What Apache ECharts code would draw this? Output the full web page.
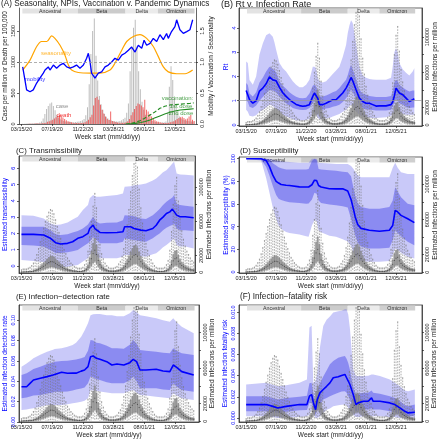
<!DOCTYPE html>
<html><head><meta charset="utf-8">
<script src="https://cdn.jsdelivr.net/npm/echarts@6/dist/echarts.min.js"></script>
<style>html,body{margin:0;padding:0;background:#fff}#c{width:440px;height:440px}</style>
</head><body><div id="c"></div>
<script>
// ---------------- DATA ----------------
const tickWeeks = [0, 18, 36, 54, 72, 90];
const tickLabels = ['03/15/20', '07/19/20', '11/22/20', '03/28/21', '08/01/21', '12/05/21'];

const variantNames = ['Ancestral', 'Beta', 'Delta', 'Omicron'];
const variantStart = [0.5, 33, 61, 80];
const variantEnd = [33, 61, 80, 101.5];

// Panel A (weekly, week 0 .. 101)
const caseA = [2,4,6,8,9,10,10,12,14,16, 18,25,40,90,160,240,290,330,345,290, 220,150,105,75,60,50,42,38,35,32, 30,30,32,35,40,48,60,80,140,270, 640,1130,1500,1700,1100,700,450,320,230,160, 118,90,70,58,50,45,42,42,48,60, 80,100,180,330,850,1250,1550,1680,1250,850, 560,360,230,150,110,80,60,48,40,32, 28,25,24,25,28,40,180,600,930,710, 420,260,170,120,90,70,60,52,48,45, 42,40];
const deathA = [0,0,1,2,3,4,5,6,7,8, 9,10,12,15,22,35,45,55,70,90, 110,130,140,125,105,80,60,45,35,28, 22,18,16,15,16,18,22,30,45,70, 110,150,300,420,440,390,310,230,170,120, 85,65,200,50,40,32,26,22,20,20, 22,28,45,80,140,190,240,290,330,320, 300,270,390,230,200,160,120,85,60,45, 35,28,22,18,15,16,20,28,35,45, 60,80,95,110,118,95,76,90,120,145, 70,50];
const seasonWeeks = [0.7,5,8.9,11.8,14.8,17.7,19.6,22.6,25.5,27.5, 29.4,33.3,40.2,46,51.9,54.8,58.8,61.7,65.6,69.5, 73.4,77.3,80.2,83.2,86.1,91,95.9,100.4];
const seasonVals = [0.87,1.03,1.25,1.33,1.33,1.42,1.38,1.27,1.11,0.95, 0.87,0.83,0.82,0.82,0.87,0.98,1.19,1.33,1.41,1.44, 1.38,1.25,1.09,0.92,0.84,0.81,0.81,0.87];
const mobWeeks = [0.7,2,3,5,6.9,8.9,10.8,12.8,13.8,15.7, 16.7,18.7,20.6,22.6,24.5,26.5,28.4,30.4,32.3,34.3, 36.3,38.2,39.2,40.2,41.1,43.1,45.1,47,49,50.9, 52.9,54.8,56.8,58.8,60.7,62.7,64.6,66.6,68.5,70.5, 71.9,73.4,75.4,77.3,79.3,81.2,83.2,85.1,86.1,88, 90,91,92.9,94.9,96.9,98.8,100.4];
const mobVals = [0.92,0.71,0.55,0.52,0.55,0.66,0.74,0.82,0.87,0.92, 0.87,0.95,0.90,0.95,0.98,0.92,0.90,0.92,0.95,0.90, 0.95,1.06,1.14,1.0,0.82,0.74,0.82,0.84,0.92,0.95, 1.0,1.06,1.03,1.11,1.14,1.19,1.24,1.16,1.27,1.22, 1.35,1.27,1.30,1.38,1.33,1.44,1.36,1.46,1.38,1.49, 1.57,1.68,1.52,1.46,1.49,1.52,1.68];
const vac1Weeks = [61,64,67,69.5,72,75.4,78,81.2,84,87.1,93,98.8,101];
const vac1Vals = [0,0.01,0.03,0.053,0.09,0.145,0.19,0.253,0.285,0.306,0.32,0.333,0.34];
const vac2Weeks = [63,67,70,72.5,75.4,78,81.2,84,87.1,90,93,98.8,101];
const vac2Vals = [0,0.01,0.025,0.04,0.065,0.095,0.13,0.16,0.19,0.21,0.226,0.24,0.245];

// Estimated infections per million (thousands), weekly box statistics, week 0 .. 101
const infHiK = [3,4,4,4,5,6,8,11,15,21, 28,36,44,52,60,66,71,74,73,69, 62,54,47,40,33,27,22,17,14,11, 9,7,6,5,5,5,6,9,14,25, 42,60,78,93,76,50,33,22,16,11, 8,6,5,5,5,6,7,10,13,19, 28,40,56,74,95,114,128,136,124,98, 76,58,44,34,26,20,15,11,8,6, 5,5,5,5,6,9,14,26,48,80, 102,112,84,63,49,39,31,25,21,17, 14,12];
const infQ3K = [0.5,0.7,0.8,0.9,1,1.2,1.5,2,3,4, 5.5,7,9,11,13,15.5,17.5,19,19,18, 16,14,12,10,8.5,7,5.5,4.5,3.5,3, 2.5,2,1.8,1.5,1.5,1.5,2,3,5,9, 17,25,34,40,32,21,14,9,6.5,4.5, 3.5,2.5,2,2,2,2,2.5,3,4,5.5, 8,11,15,19,24,28,31,32,29,24, 19,15,11.5,9,7,5.5,4,3,2.3,1.8, 1.5,1.5,1.5,1.5,2,3,4.5,8,14,21, 25,26,20,15,12,10,8,6.5,5.5,4.5, 4,3.5];
const infMedK = [0.3,0.4,0.5,0.6,0.6,0.8,1,1.3,2,2.6, 3.6,4.5,6,7,8.5,10,11.5,12.5,12.5,12, 10.5,9,8,6.5,5.5,4.5,3.6,3,2.3,2, 1.6,1.3,1.2,1,1,1,1.3,2,3.3,6, 11,16,22,26,21,14,9,6,4.2,3, 2.3,1.6,1.3,1.3,1.3,1.3,1.6,2,2.6,3.6, 5.2,7,10,12.5,15.5,18,20,21,19,15.5, 12.5,10,7.5,6,4.5,3.6,2.6,2,1.5,1.2, 1,1,1,1,1.3,2,3,5.2,9,13.5, 16,17,13,10,8,6.5,5.2,4.2,3.6,3, 2.6,2.3];
const infQ1K = [0.15,0.2,0.25,0.3,0.3,0.4,0.5,0.6,1,1.3, 1.8,2.2,3,3.5,4.2,5,5.7,6.2,6.2,6, 5.2,4.5,4,3.2,2.7,2.2,1.8,1.5,1.1,1, 0.8,0.6,0.6,0.5,0.5,0.5,0.6,1,1.6,3, 5.5,8,11,13,10.5,7,4.5,3,2.1,1.5, 1.1,0.8,0.6,0.6,0.6,0.6,0.8,1,1.3,1.8, 2.6,3.5,5,6.2,7.7,9,10,10.5,9.5,7.7, 6.2,5,3.7,3,2.2,1.8,1.3,1,0.7,0.6, 0.5,0.5,0.5,0.5,0.6,1,1.5,2.6,4.5,6.7, 8,8.5,6.5,5,4,3.2,2.6,2.1,1.8,1.5, 1.3,1.1];
const infLoK = [0,0,0,0,0,0,0,0.1,0.1,0.2, 0.2,0.3,0.4,0.5,0.6,0.7,0.8,0.9,0.9,0.8, 0.7,0.6,0.5,0.4,0.3,0.3,0.2,0.2,0.1,0.1, 0.1,0.1,0.1,0.1,0.1,0.1,0.1,0.1,0.2,0.4, 0.8,1.2,1.6,1.8,1.4,1,0.6,0.4,0.3,0.2, 0.1,0.1,0.1,0.1,0.1,0.1,0.1,0.1,0.2,0.3, 0.4,0.6,0.8,1,1.2,1.4,1.5,1.5,1.3,1.1, 0.9,0.7,0.5,0.4,0.3,0.2,0.2,0.1,0.1,0.1, 0.1,0.1,0.1,0.1,0.1,0.1,0.2,0.4,0.7,1, 1.1,1.2,0.9,0.7,0.6,0.5,0.4,0.3,0.3,0.2, 0.2,0.2];

// Panel B: Rt
const rtWeeks = [0,1,2,4,6,8,10,12,14,16, 17,18,20,22,24,26,28,30,32,34, 36,38,40,41,42,43,44,46,48,50, 52,54,56,58,60,61,62,63,64,66, 68,70,72,74,76,78,80,84,87,88, 89,90,91,92,94,96,98,100,101];
const rtMed = [1.42,1.38,1.05,0.9,1.0,1.4,1.52,1.7,1.98,1.86, 1.9,1.82,1.55,1.33,1.18,1.05,0.94,0.85,0.8,0.77, 0.79,0.84,1.18,1.32,1.34,1.1,0.84,0.84,0.9,0.97, 1.04,1.04,1.18,1.32,1.52,1.65,1.8,1.96,1.82,1.45, 1.11,0.97,0.9,0.9,0.84,0.78,0.79,0.79,0.84,0.95, 1.2,1.52,1.45,1.32,1.25,1.11,0.97,1.04,1.08];
const rtLo50 = [1.04,0.95,0.75,0.7,0.8,1.0,1.15,1.3,1.45,1.42, 1.4,1.35,1.18,1.02,0.9,0.8,0.7,0.66,0.63,0.62, 0.63,0.7,0.9,1.0,0.95,0.75,0.63,0.63,0.68,0.7, 0.75,0.78,0.84,0.95,1.1,1.2,1.35,1.45,1.35,1.1, 0.84,0.7,0.65,0.63,0.62,0.6,0.6,0.6,0.63,0.75, 0.95,1.05,1.0,0.9,0.85,0.75,0.7,0.72,0.72];
const rtHi50 = [1.73,1.65,1.3,1.18,1.35,1.75,1.95,2.2,2.4,2.3, 2.27,2.15,1.8,1.62,1.49,1.35,1.25,1.16,1.11,1.1, 1.12,1.3,1.62,1.66,1.6,1.35,1.18,1.18,1.22,1.28, 1.35,1.4,1.52,1.7,1.86,2.05,2.3,2.47,2.3,1.9, 1.45,1.3,1.25,1.2,1.17,1.15,1.15,1.15,1.2,1.4, 1.75,1.86,1.8,1.66,1.55,1.45,1.38,1.42,1.42];
const rtLo95 = [0.63,0.55,0.38,0.35,0.4,0.55,0.62,0.72,0.84,0.78, 0.72,0.65,0.55,0.42,0.35,0.29,0.24,0.2,0.19,0.19, 0.21,0.25,0.45,0.5,0.45,0.3,0.24,0.25,0.27,0.29, 0.35,0.4,0.45,0.55,0.63,0.7,0.78,0.84,0.75,0.56, 0.42,0.35,0.32,0.3,0.29,0.29,0.3,0.32,0.38,0.42, 0.55,0.63,0.6,0.5,0.45,0.42,0.42,0.42,0.42];
const rtHi95 = [2.62,2.55,1.85,1.66,2.0,2.9,3.36,3.7,3.78,3.64, 3.4,3.1,2.55,2.34,2.2,2.0,1.8,1.66,1.56,1.56, 1.66,1.86,2.4,2.4,2.34,1.95,1.8,1.75,1.8,1.95, 2.1,2.25,2.4,2.8,3.3,3.78,4.1,4.32,4.2,3.36, 2.4,2.04,1.95,1.9,1.88,1.86,1.86,1.86,1.95,2.4, 3.0,3.16,3.0,2.55,2.3,2.15,2.04,2.2,2.34];

// Panel C: transmissibility
const trWeeks = [0,7,13,17,20,23,27,30,33,36, 39,40,42,43,44,46,50,56,59.5,60.5, 64,66,70,73,77,79,81,83,85,87, 88.5,89.5,91,93,96,101];
const trMed = [1.94,1.94,1.9,1.7,1.43,1.35,1.39,1.49,1.7,1.8, 2.0,2.3,2.51,2.3,2.2,2.06,2.04,2.06,2.1,2.41, 2.41,2.3,2.2,2.16,2.3,2.5,2.81,3.0,3.22,3.32, 3.49,3.53,3.12,3.02,3.02,2.96];
const trLo50 = [1.29,1.25,1.19,0.98,0.8,0.8,0.84,0.9,0.98,1.19, 1.4,1.49,1.8,1.7,1.6,1.39,1.39,1.39,1.49,1.7, 1.62,1.6,1.52,1.49,1.7,1.85,2.0,2.2,2.35,2.45, 2.51,2.61,2.3,2.2,2.2,2.14];
const trHi50 = [2.41,2.41,2.41,2.2,1.95,1.9,1.95,2.05,2.14,2.3, 2.55,2.71,3.02,2.85,2.71,2.61,2.65,2.67,2.81,3.12, 3.08,3.06,2.92,2.88,3.12,3.3,3.5,3.74,3.95,4.1, 4.2,4.35,3.8,3.74,3.7,3.63];
const trLo95 = [0.37,0.31,0.25,0.06,-0.12,-0.1,-0.04,0.02,0.06,0.27, 0.47,0.67,0.88,0.7,0.57,0.47,0.47,0.47,0.57,0.67, 0.67,0.67,0.6,0.57,0.72,0.78,0.95,1.15,1.29,1.45, 1.6,1.7,1.29,1.2,1.19,1.08];
const trHi95 = [3.12,3.08,2.92,2.61,2.52,2.55,2.67,2.85,3.02,3.43, 3.74,4.15,4.35,4.3,4.25,4.25,4.3,4.35,4.45,4.86, 4.9,4.96,5.0,5.06,5.25,5.37,5.55,5.75,5.88,6.1, 6.29,6.39,5.67,5.62,5.6,5.55];

// Panel D: susceptibility (%)
const suWeeks = [0,9,12,14,16,18,19.5,21,24,26, 32,36,37.5,39.5,41,42.3,43.5,45,50,54, 58,61,63,64.5,65.5,67,69,74,80,86, 88,89.5,91,93,97,101];
const suMed = [100,100,98.5,93,85.5,80,78.5,77.2,76.5,76.3, 75.1,75,75,77,81,80.7,76.3,75,73.5,73.4, 73.4,71.5,64,55,48.5,42,38.5,36.8,36,36.8, 41,54.4,53,50,47,43.6];
const suLo50 = [100,99,93,85,76,68,64.6,63.5,62.3,61.5, 61,60.3,60.5,64,70,69,63.2,61,59.5,58.8, 58,57,47,38,32.5,26,22.5,20.8,20.8,21.3, 28,36.8,34.5,31.5,26.6,23.7];
const suHi50 = [100,100,100,99,96,94,92.4,91.5,90.5,90.4, 90.4,90.4,91,98,100,99,91,90.5,89.8,89.3, 88.5,88,84.5,74,67.5,61,57.3,55.9,55.9,57.3, 63,74.8,71,66,60.3,58.8];
const suLo95 = [100,98.5,83,70,57,47,41,38,35.4,34.5, 33.1,31.5,31,41,45.6,45,36.8,35,32,31, 29,27,23,17,14,11,9.6,9,9,9.6, 15,20.8,19.5,17,13.4,12];
const suHi95 = [100,100,100,100,99,98.5,98.2,97.8,97.4,97, 96.5,96.5,96.5,100,100,100,96.5,96.3,95.8,95.3, 95.3,95.3,93.5,91,88.5,85.5,83.6,83.6,83.6,83.6, 92,96.5,92,88,86.6,86.6];

// Panel E: infection-detection rate
const idWeeks = [0,3,5,7,11,15,18.5,19.5,23.5,27, 30,32,35,37,39,40.5,42,44,46,50, 53,56,60,63.5,65.5,67.5,69.5,73,79,83, 87,89,91,94,101];
const idMed = [0.0347,0.0347,0.038,0.0413,0.043,0.0446,0.0462,0.0479,0.0489,0.0479, 0.048,0.048,0.050,0.0511,0.0544,0.0642,0.0649,0.0626,0.0616,0.0593, 0.056,0.057,0.056,0.0583,0.0616,0.0593,0.0511,0.0511,0.0518,0.0501, 0.0495,0.056,0.0537,0.0495,0.0462];
const idLo50 = [0.0233,0.024,0.025,0.026,0.0265,0.028,0.029,0.0298,0.0298,0.03, 0.031,0.032,0.033,0.034,0.038,0.0446,0.044,0.042,0.0413,0.039, 0.038,0.038,0.038,0.041,0.0446,0.04,0.0331,0.0331,0.0331,0.032, 0.0315,0.038,0.035,0.0315,0.0298];
const idHi50 = [0.0462,0.048,0.05,0.052,0.0544,0.057,0.0585,0.0593,0.06,0.0603, 0.061,0.0615,0.0626,0.064,0.07,0.0806,0.08,0.078,0.0774,0.075, 0.0725,0.0725,0.072,0.076,0.0806,0.077,0.0708,0.07,0.0691,0.068, 0.0675,0.0725,0.07,0.0675,0.0659];
const idLo95 = [0.0118,0.0122,0.013,0.0135,0.015,0.0167,0.0167,0.0167,0.0167,0.0175, 0.0184,0.019,0.02,0.021,0.0233,0.0315,0.031,0.0305,0.03,0.029, 0.0282,0.0282,0.0282,0.0305,0.0315,0.029,0.0265,0.026,0.0249,0.024, 0.0233,0.0282,0.026,0.0233,0.0216];
const idHi95 = [0.0544,0.0575,0.06,0.0626,0.066,0.0691,0.071,0.0718,0.0725,0.074, 0.0757,0.078,0.0839,0.09,0.097,0.105,0.106,0.1062,0.1062,0.105, 0.105,0.104,0.104,0.107,0.110,0.108,0.105,0.104,0.102,0.100, 0.0986,0.102,0.098,0.0937,0.0872];

// Panel F: infection-fatality risk
const ifWeeks = [0,12,16,19,24,32,36.5,38,39.3,40.3, 41.7,42.7,44.3,46.3,48.3,50.3,52.3,55.3,57.3,59.3, 60.3,61.3,62.3,63.3,64.3,65.9,67.3,70.3,73.3,75.3, 76.3,80.3,86.3,89.3,92.3,95.3,97.3,101.3];
const ifMed = [0.00127,0.00127,0.0011,0.00095,0.0011,0.00127,0.00127,0.00206,0.00222,0.0015, 0.00079,0.00174,0.00238,0.0027,0.003,0.00333,0.00381,0.0039,0.00403,0.00412, 0.00381,0.0035,0.00317,0.0027,0.00222,0.00127,0.00143,0.00158,0.00158,0.0019, 0.00158,0.00158,0.00143,0.00127,0.00095,0.00063,0.00048,0.00054];
const ifLo50 = [0.00063,0.00063,0.00055,0.00048,0.00058,0.00073,0.00075,0.00143,0.00143,0.0009, 0.00031,0.0009,0.0013,0.00174,0.0019,0.00206,0.0022,0.00238,0.0025,0.00254, 0.0024,0.0021,0.00174,0.0013,0.00095,0.00063,0.0007,0.0008,0.0008,0.0009, 0.0008,0.0008,0.00063,0.00055,0.00038,0.00022,0.00016,0.00022];
const ifHi50 = [0.00206,0.00206,0.0019,0.00174,0.0019,0.002,0.0021,0.0033,0.00333,0.0024, 0.00143,0.0026,0.0033,0.00393,0.0045,0.00508,0.0054,0.00571,0.0058,0.00587, 0.0056,0.0052,0.0046,0.0037,0.003,0.00222,0.0023,0.00238,0.00238,0.0026, 0.00238,0.0023,0.00206,0.0019,0.0016,0.0012,0.0011,0.00127];
const ifLo95 = [0.00016,0.00016,0.0001,0.0,0.00005,0.0001,0.00016,0.0003,0.0008,0.0003, 0.0,0.0,0.00016,0.0005,0.00079,0.0009,0.0011,0.0012,0.00125,0.00127, 0.0012,0.00095,0.0007,0.0005,0.00031,0.0001,0.0001,0.00016,0.00016,0.00016, 0.00016,0.00016,0.0001,0.0001,0.0,0.0,0.0,0.0];
const ifHi95 = [0.00317,0.00333,0.00315,0.003,0.0031,0.00333,0.00365,0.00857,0.00873,0.00333, 0.0035,0.0043,0.00667,0.0087,0.0093,0.0096,0.01,0.0101,0.01015,0.0103, 0.0103,0.0098,0.0085,0.0065,0.0046,0.00397,0.00397,0.00397,0.004,0.00412, 0.00412,0.00397,0.00365,0.00333,0.003,0.0026,0.00254,0.0027];

// ---------------- STYLE / LAYOUT ----------------
const FONT = '"Liberation Sans", Arial, Helvetica, sans-serif';
const AXC = '#222';
const BLUE = '#0000ff';
const OUTER = 'rgba(40,40,230,0.25)';
const INNER = 'rgba(40,40,230,0.38)';
const stripFill = ['#e3e3e3', '#cbcbcb', '#ebebeb', '#cfcfcf'];

const grids = [
  {left: 19, top: 8, width: 177, height: 116, show: false},
  {left: 239, top: 8, width: 183, height: 118},
  {left: 19, top: 156, width: 176, height: 117},
  {left: 239, top: 157, width: 183, height: 116},
  {left: 19, top: 305, width: 180, height: 117},
  {left: 239, top: 305, width: 183, height: 117}
].map((g, i) => Object.assign({show: i > 0, borderColor: AXC, borderWidth: 0.7, backgroundColor: 'transparent'}, g));
const xRanges = [[-1.466, 102.35], [-4.3, 105.6], [-1.466, 101.76], [-4.3, 105.6], [-1.466, 104.1], [-4.3, 105.6]];

function xAxis(gi) {
  return {
    type: 'value', gridIndex: gi, min: xRanges[gi][0], max: xRanges[gi][1],
    axisLine: {show: true, onZero: false, lineStyle: {color: AXC, width: 0.7}},
    axisTick: {show: true, length: 2, customValues: tickWeeks, lineStyle: {color: AXC, width: 0.7}},
    axisLabel: {show: true, customValues: tickWeeks, margin: 2, fontSize: 5.5, color: AXC, fontFamily: FONT,
      formatter: v => { const i = tickWeeks.indexOf(Math.round(v)); return i >= 0 ? tickLabels[i] : ''; }},
    splitLine: {show: false},
    name: 'Week start (mm/dd/yy)', nameLocation: 'middle', nameGap: 9.5,
    nameTextStyle: {fontSize: 6.5, color: AXC, fontFamily: FONT}
  };
}
function yAxis(gi, pos, min, max, ticks, labelTicks, fmt, labelColor, name, nameColor, margin, nameGap) {
  return {
    type: 'value', gridIndex: gi, position: pos, min, max,
    axisLine: {show: true, onZero: false, lineStyle: {color: AXC, width: 0.7}},
    axisTick: {show: true, length: 2, customValues: ticks, lineStyle: {color: AXC, width: 0.7}},
    axisLabel: {show: true, customValues: labelTicks, rotate: 90, margin, fontSize: 5.5, color: labelColor, fontFamily: FONT, formatter: fmt},
    splitLine: {show: false},
    name, nameLocation: 'middle', nameRotate: 90, nameGap,
    nameTextStyle: {fontSize: 6.5, color: nameColor, fontFamily: FONT}
  };
}
const infTicks = [0, 20000, 40000, 60000, 80000, 100000];
const infLabels = [0, 20000, 60000, 100000];
const INFNAME = 'Estimated infections per million';
const yAxes = [
  yAxis(0, 'left', 0, 1870, [0, 500, 1000, 1500], [0, 500, 1000, 1500], v => String(v), AXC, 'Case per million or Death per 100,000', AXC, 3, 10.5),
  yAxis(0, 'right', 0, 1.87, [0, 0.5, 1, 1.5], [0, 0.5, 1, 1.5], v => v.toFixed(1), AXC, 'Mobility / Vaccination / Seasonality', AXC, 3, 12),
  yAxis(1, 'left', -0.04, 4.82, [0, 1, 2, 3, 4], [0, 1, 2, 3, 4], v => String(v), BLUE, 'Rt', BLUE, 1.5, 9),
  yAxis(1, 'right', -1100, 133000, infTicks, infLabels, v => String(v), AXC, INFNAME, AXC, 2.5, 8),
  yAxis(2, 'left', -0.43, 6.75, [0, 1, 2, 3, 4, 5, 6], [0, 1, 2, 3, 4, 5, 6], v => String(v), BLUE, 'Estimated transmissibility', BLUE, 3, 9.7),
  yAxis(2, 'right', -800, 137000, infTicks, infLabels, v => String(v), AXC, INFNAME, AXC, 3.5, 10.5),
  yAxis(3, 'left', -0.9, 101.5, [0, 20, 40, 60, 80, 100], [0, 20, 40, 60, 80, 100], v => String(v), BLUE, 'Estimated susceptibility (%)', BLUE, 2.3, 9.7),
  yAxis(3, 'right', -800, 131000, infTicks, infLabels, v => String(v), AXC, INFNAME, AXC, 2.5, 8),
  yAxis(4, 'left', 0, 0.115, [0, 0.02, 0.04, 0.06, 0.08, 0.1], [0, 0.02, 0.04, 0.06, 0.08, 0.1], v => v.toFixed(2), BLUE, 'Estimated infection detection rate', BLUE, 3, 10.5),
  yAxis(4, 'right', -800, 131000, infTicks, infLabels, v => String(v), AXC, INFNAME, AXC, 3.3, 10),
  yAxis(5, 'left', -0.00038, 0.0107, [0, 0.002, 0.004, 0.006, 0.008, 0.01], [0, 0.002, 0.004, 0.006, 0.008, 0.01], v => v.toFixed(3), BLUE, 'Estimated infection fatality risk', BLUE, 2.3, 10),
  yAxis(5, 'right', -800, 131000, infTicks, infLabels, v => String(v), AXC, INFNAME, AXC, 2, 7)
];

// ---------------- SERIES BUILDERS ----------------
function stripSeries(gi, yi) {
  return {
    type: 'custom', xAxisIndex: gi, yAxisIndex: yi, z: 1, silent: true, clip: true,
    data: variantStart.map((s, i) => [s, variantEnd[i], i]),
    renderItem: (params, api) => {
      const cs = params.coordSys;
      const x0 = Math.max(api.coord([api.value(0), 0])[0], cs.x);
      const x1 = Math.min(api.coord([api.value(1), 0])[0], cs.x + cs.width);
      const idx = api.value(2);
      return {type: 'group', children: [
        {type: 'rect', shape: {x: x0, y: cs.y + 0.5, width: x1 - x0, height: 5}, style: {fill: stripFill[idx]}},
        {type: 'text', x: (x0 + x1) / 2, y: cs.y + 3.1, style: {text: variantNames[idx], align: 'center', verticalAlign: 'middle', textAlign: 'center', textVerticalAlign: 'middle', fontSize: 5.3, fontFamily: FONT, fill: '#333'}}
      ]};
    }
  };
}
function bandSeries(gi, yi, weeks, lo, hi, fill, z) {
  return {
    type: 'custom', xAxisIndex: gi, yAxisIndex: yi, z, silent: true, clip: true,
    data: [[weeks[0], lo[0]]],
    renderItem: (params, api) => {
      const pts = [];
      for (let i = 0; i < weeks.length; i++) pts.push(api.coord([weeks[i], hi[i]]));
      for (let i = weeks.length - 1; i >= 0; i--) pts.push(api.coord([weeks[i], lo[i]]));
      return {type: 'polygon', shape: {points: pts}, style: {fill}};
    }
  };
}
function boxSeries(gi, yi) {
  const data = infHiK.map((h, i) => [i, infLoK[i] * 1000, infQ1K[i] * 1000, infMedK[i] * 1000, infQ3K[i] * 1000, h * 1000]);
  return {
    type: 'custom', xAxisIndex: gi, yAxisIndex: yi, z: 3, silent: true, clip: true, data,
    renderItem: (params, api) => {
      const w = api.value(0);
      const lo = api.coord([w, api.value(1)]), q1 = api.coord([w, api.value(2)]), md = api.coord([w, api.value(3)]);
      const q3 = api.coord([w, api.value(4)]), hi = api.coord([w, api.value(5)]);
      const x = lo[0], hw = 0.55;
      const ws = {stroke: '#777', lineWidth: 0.6, lineDash: [1.6, 1.2]};
      return {type: 'group', children: [
        {type: 'line', shape: {x1: x, y1: hi[1], x2: x, y2: q3[1]}, style: ws},
        {type: 'line', shape: {x1: x, y1: q1[1], x2: x, y2: lo[1]}, style: ws},
        {type: 'line', shape: {x1: x - hw, y1: hi[1], x2: x + hw, y2: hi[1]}, style: {stroke: '#777', lineWidth: 0.6}},
        {type: 'rect', shape: {x: x - hw, y: q3[1], width: 2 * hw, height: Math.max(q1[1] - q3[1], 0.3)}, style: {fill: '#a8a8a8', stroke: '#5e5e5e', lineWidth: 0.4}},
        {type: 'line', shape: {x1: x - hw, y1: md[1], x2: x + hw, y2: md[1]}, style: {stroke: '#333', lineWidth: 0.7}}
      ]};
    }
  };
}
function lineSeries(gi, yi, weeks, vals, color, width, z, extra) {
  return Object.assign({
    type: 'line', xAxisIndex: gi, yAxisIndex: yi, z, showSymbol: false, symbol: 'none', silent: true, clip: true,
    data: weeks.map((w, i) => [w, vals[i]]), lineStyle: {color, width}, itemStyle: {color}
  }, extra || {});
}
function estPanel(gi, yl, yr, weeks, med, lo50, hi50, lo95, hi95, refLine) {
  const out = [
    stripSeries(gi, yl),
    bandSeries(gi, yl, weeks, lo95, hi95, OUTER, 2),
    bandSeries(gi, yl, weeks, lo50, hi50, INNER, 2),
    boxSeries(gi, yr),
    lineSeries(gi, yl, weeks, med, BLUE, 1.6, 4)
  ];
  if (refLine) out[4].markLine = {silent: true, symbol: 'none', label: {show: false}, lineStyle: {color: '#999', width: 0.7, type: 'solid'}, data: [{yAxis: 1}]};
  return out;
}

// annotation labels of panel A (in data coordinates: week, right-axis value)
const notes = [
  {t: 'seasonality', w: 20.2, v: 1.145, c: '#FFA500'},
  {t: 'mobility', w: 7.9, v: 0.726, c: BLUE},
  {t: 'case', w: 23.8, v: 0.29, c: '#777'},
  {t: 'death', w: 24.9, v: 0.145, c: '#ee0000'},
  {t: 'vaccination:', w: 91.5, v: 0.42, c: '#228B22'},
  {t: '1st dose', w: 93.5, v: 0.285, c: '#228B22'},
  {t: '2nd dose', w: 93.5, v: 0.175, c: '#228B22'}
];

const series = [
  stripSeries(0, 0),
  {type: 'bar', xAxisIndex: 0, yAxisIndex: 0, z: 2, silent: true, barWidth: 0.9, barGap: '0%',
   data: caseA.map((v, i) => [i, v]), itemStyle: {color: '#bdbdbd'}},
  {type: 'bar', xAxisIndex: 0, yAxisIndex: 0, z: 2, silent: true, barWidth: 0.9, barGap: '0%',
   data: deathA.map((v, i) => [i, v]), itemStyle: {color: 'rgba(235,40,40,0.7)'}},
  lineSeries(0, 1, seasonWeeks, seasonVals, '#FFA500', 1.2, 4, {smooth: 0.3,
    markLine: {silent: true, symbol: 'none', label: {show: false}, lineStyle: {color: '#999', width: 0.8, type: [3, 2]}, data: [{yAxis: 1}]}}),
  lineSeries(0, 1, mobWeeks, mobVals, BLUE, 1.3, 4),
  lineSeries(0, 1, vac1Weeks, vac1Vals, '#228B22', 1.1, 4, {lineStyle: {color: '#228B22', width: 1.1, type: [4, 2]}}),
  lineSeries(0, 1, vac2Weeks, vac2Vals, '#228B22', 1.1, 4),
  {type: 'scatter', xAxisIndex: 0, yAxisIndex: 1, z: 5, silent: true, symbolSize: 0,
   data: notes.map(n => ({value: [n.w, n.v], label: {show: true, position: 'inside', formatter: n.t, color: n.c, fontSize: 6, fontFamily: FONT}}))},
  ...estPanel(1, 2, 3, rtWeeks, rtMed, rtLo50, rtHi50, rtLo95, rtHi95, true),
  ...estPanel(2, 4, 5, trWeeks, trMed, trLo50, trHi50, trLo95, trHi95, false),
  ...estPanel(3, 6, 7, suWeeks, suMed, suLo50, suHi50, suLo95, suHi95, false),
  ...estPanel(4, 8, 9, idWeeks, idMed, idLo50, idHi50, idLo95, idHi95, false),
  ...estPanel(5, 10, 11, ifWeeks, ifMed, ifLo50, ifHi50, ifLo95, ifHi95, false)
];

const titleStyle = sz => ({fontSize: sz, fontWeight: 'normal', color: '#222', fontFamily: FONT});
const titles = [
  {text: '(A) Seasonality, NPIs, Vaccination v. Pandemic Dynamics', left: 1, top: 0, textStyle: titleStyle(8.2)},
  {text: '(B) Rt v. Infection Rate', left: 221, top: 0, textStyle: titleStyle(9)},
  {text: '(C) Transmissibility', left: 16, top: 146.5, textStyle: titleStyle(7.8)},
  {text: '(D) Susceptibility', left: 240, top: 146.5, textStyle: titleStyle(7.8)},
  {text: '(E) Infection\u2212detection rate', left: 16, top: 293, textStyle: titleStyle(7.8)},
  {text: '(F) Infection\u2212fatality risk', left: 240, top: 293, textStyle: titleStyle(8.2)}
].map(t => Object.assign({padding: 0, itemGap: 0}, t));

const chart = echarts.init(document.getElementById('c'), null, {renderer: 'canvas', width: 440, height: 440});
chart.setOption({
  animation: false,
  backgroundColor: '#fff',
  textStyle: {fontFamily: FONT},
  title: titles,
  grid: grids,
  xAxis: [0, 1, 2, 3, 4, 5].map(xAxis),
  yAxis: yAxes,
  series
});
</script></body></html>
